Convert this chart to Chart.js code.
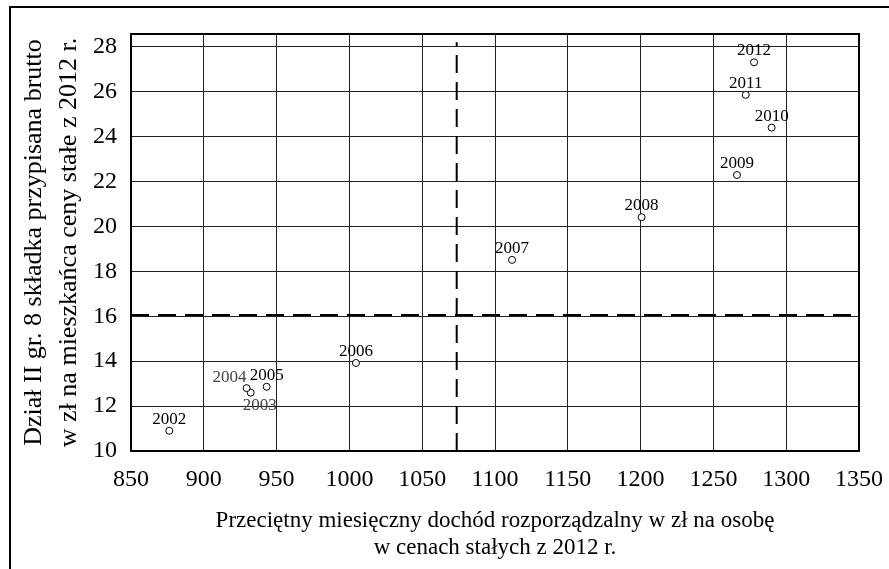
<!DOCTYPE html>
<html>
<head>
<meta charset="utf-8">
<script src="https://cdn.jsdelivr.net/npm/chart.js@4.4.1/dist/chart.umd.min.js"></script>
<style>
  html, body { margin: 0; padding: 0; background: #fff; overflow: hidden; }
  #wrap { position: relative; width: 889px; height: 569px; overflow: hidden; }
  #frame { position: absolute; left: 9px; top: 6px; width: 900px; height: 600px;
           border-top: 2px solid #000; border-left: 2px solid #000; }
  canvas { position: absolute; left: 0; top: 0; }
</style>
</head>
<body>
<div id="wrap">
  <div id="frame"></div>
  <canvas id="canvas" width="889" height="569"></canvas>
</div>
<script>
// years, disposable income (zł per person, 2012 prices), gross premium (zł per inhabitant)
const years   = ['2002', '2003', '2004', '2005', '2006', '2007', '2008', '2009', '2010', '2011', '2012'];
const income  = [876.3, 932.2, 929.4, 943.2, 1004.5, 1111.7, 1200.7, 1266.2, 1290.0, 1272.2, 1277.9];
const premium = [10.90, 12.60, 12.80, 12.86, 13.92, 18.51, 20.41, 22.29, 24.40, 25.86, 27.31];

// reference lines splitting the plot
const incomeCut  = 1073.7;
const premiumCut = 16.06;

const xTickValues = [850, 900, 950, 1000, 1050, 1100, 1150, 1200, 1250, 1300, 1350];
const yTickValues = [10, 12, 14, 16, 18, 20, 22, 24, 26, 28];

const xTitle = ['Przeciętny miesięczny dochód rozporządzalny w zł na osobę', 'w cenach stałych z 2012 r.'];
const yTitle = ['Dział II gr. 8 składka przypisana brutto', 'w zł na mieszkańca ceny stałe z 2012 r.'];

const serif = "'Liberation Serif', 'Times New Roman', serif";

// year captions beside the circles
const yearLabels = {
  id: 'yearLabels',
  afterDatasetsDraw(chart) {
    const ctx = chart.ctx;
    const meta = chart.getDatasetMeta(2);
    ctx.save();
    ctx.font = '17px ' + serif;
    ctx.textBaseline = 'alphabetic';
    meta.data.forEach((pt, i) => {
      const yr = years[i];
      let x = pt.x, y = pt.y - 7;
      ctx.textAlign = 'center';
      ctx.fillStyle = '#000';
      if (yr === '2004') {
        ctx.textAlign = 'right';
        y = pt.y - 6;
        ctx.fillStyle = '#444';
      } else if (yr === '2003') {
        x = pt.x + 9;
        y = pt.y + 17;
        ctx.fillStyle = '#444';
      }
      ctx.fillText(yr, x, y);
    });
    ctx.restore();
  }
};

// box round the plot area
const plotFrame = {
  id: 'plotFrame',
  afterDraw(chart) {
    const { ctx, chartArea: a } = chart;
    ctx.save();
    ctx.strokeStyle = '#000';
    ctx.lineWidth = 2;
    ctx.strokeRect(a.left, a.top, a.right - a.left, a.bottom - a.top);
    ctx.restore();
  }
};

const ctx = document.getElementById('canvas').getContext('2d');
new Chart(ctx, {
  type: 'scatter',
  data: {
    datasets: [
      {
        type: 'line',
        data: [{ x: incomeCut, y: 10 }, { x: incomeCut, y: 28.2 }],
        borderColor: '#000',
        borderWidth: 2,
        borderDash: [18, 9],
        pointRadius: 0,
        order: 2
      },
      {
        type: 'line',
        data: [{ x: 850, y: premiumCut }, { x: 1350, y: premiumCut }],
        borderColor: '#000',
        borderWidth: 2,
        borderDash: [18, 9],
        pointRadius: 0,
        order: 2
      },
      {
        data: income.map((v, i) => ({ x: v, y: premium[i] })),
        pointRadius: 3.5,
        pointBorderWidth: 1,
        borderColor: '#000',
        backgroundColor: '#fff',
        order: 1
      }
    ]
  },
  options: {
    responsive: false,
    animation: false,
    devicePixelRatio: 1,
    layout: { padding: { left: 0, top: 34, right: 30, bottom: 0 } },
    plugins: { legend: { display: false }, tooltip: { enabled: false } },
    events: [],
    scales: {
      x: {
        type: 'linear',
        min: 850,
        max: 1350,
        afterBuildTicks: s => { s.ticks = xTickValues.map(v => ({ value: v })); },
        afterFit: s => { s.height = 118; s.paddingLeft = 0; s.paddingRight = 0; },
        grid: { color: '#222', lineWidth: 1, drawTicks: false },
        border: { display: false },
        ticks: {
          color: '#000', padding: 14, maxRotation: 0,
          font: { family: serif, size: 24 },
          callback: v => String(v)
        },
        title: {
          display: true,
          text: xTitle,
          color: '#000',
          font: { family: serif, size: 23, lineHeight: 1.2 },
          padding: { top: 0, bottom: 7 }
        }
      },
      y: {
        min: 10,
        max: 28.57,
        afterBuildTicks: s => { s.ticks = yTickValues.map(v => ({ value: v })); },
        afterFit: s => { s.width = 131; },
        grid: { color: '#222', lineWidth: 1, drawTicks: false },
        border: { display: false },
        ticks: {
          color: '#000', padding: 14,
          font: { family: serif, size: 24 },
          callback: v => String(v)
        },
        title: {
          display: true,
          text: yTitle,
          color: '#000',
          font: { family: serif, size: 26, lineHeight: 1.35 },
          padding: { top: 17, bottom: 0 }
        }
      }
    }
  },
  plugins: [yearLabels, plotFrame]
});
</script>
</body>
</html>
